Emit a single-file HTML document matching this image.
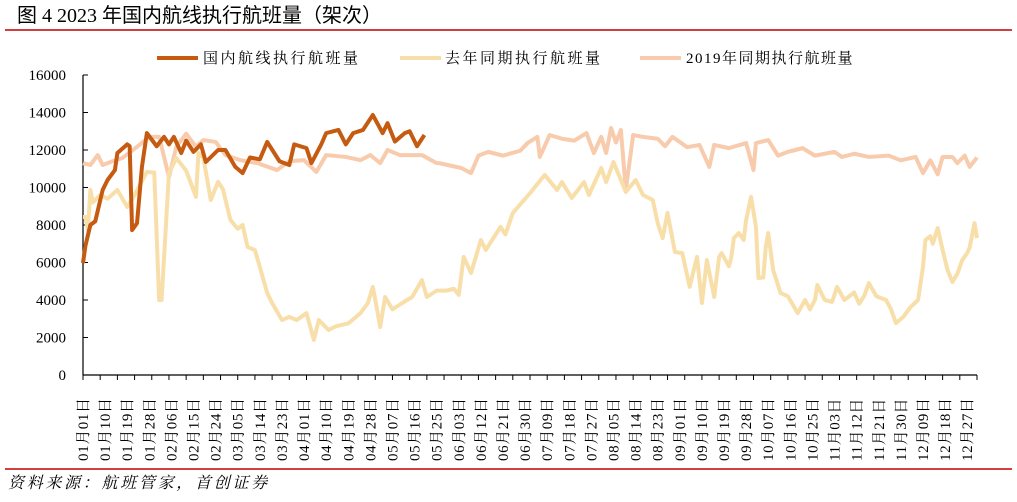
<!DOCTYPE html>
<html><head><meta charset="utf-8"><style>
body{margin:0;background:#fff;width:1017px;height:497px;overflow:hidden;font-family:"Liberation Serif","Noto Serif CJK SC",serif}
</style></head><body>
<svg id="chart" width="1017" height="497" xmlns="http://www.w3.org/2000/svg">
<text x="17" y="22" font-size="20" font-family="Liberation Serif, Noto Sans CJK SC, sans-serif" fill="#000">图  4 2023 年国内航线执行航班量（架次）</text>
<line x1="5" y1="30" x2="1012" y2="30" stroke="#C00000" stroke-width="1.5"/>
<line x1="5" y1="469" x2="1012" y2="469" stroke="#C00000" stroke-width="1.5"/>
<text x="8" y="488" font-size="16" letter-spacing="2.7" font-style="italic" font-family="Liberation Serif, Noto Serif CJK SC, serif">资料来源：航班管家，首创证券</text>
<g font-size="15" letter-spacing="2.5" font-family="Liberation Serif, Noto Serif CJK SC, serif">
<g><line x1="157" y1="58" x2="198" y2="58" stroke="#C55A11" stroke-width="4"/><text x="203" y="63">国内航线执行航班量</text></g>
<g><line x1="400" y1="58" x2="441" y2="58" stroke="#F8DFAA" stroke-width="4"/><text x="445" y="63">去年同期执行航班量</text></g>
<g><line x1="640" y1="58" x2="681" y2="58" stroke="#F8CBAD" stroke-width="4"/><text x="686" y="63" letter-spacing="1.5">2019年同期执行航班量</text></g>
</g>
<g id="axes"></g>
<g id="series"></g>
</svg>
<script>
const yTicks=[0,2000,4000,6000,8000,10000,12000,14000,16000];
const xLabels=["01月01日","01月10日","01月19日","01月28日","02月06日","02月15日","02月24日","03月05日","03月14日","03月23日","04月01日","04月10日","04月19日","04月28日","05月07日","05月16日","05月25日","06月03日","06月12日","06月21日","06月30日","07月09日","07月18日","07月27日","08月05日","08月14日","08月23日","09月01日","09月10日","09月19日","09月28日","10月07日","10月16日","10月25日","11月03日","11月12日","11月21日","11月30日","12月09日","12月18日","12月27日"];
const days2023=[0,1,3,5,8,10,13,14,18,19,20,22,24,26,30,33,35,37,40,42,45,48,50,55,58,62,65,68,72,75,80,84,86,91,93,97,99,104,107,110,114,118,122,124,127,131,133,136,139];
const vals2023=[5970,6900,8000,8200,9870,10400,10930,11840,12300,12200,7730,8100,11100,12900,12200,12700,12300,12700,11840,12500,11900,12300,11360,12000,12000,11100,10770,11600,11500,12430,11400,11200,12300,12100,11300,12300,12900,13070,12300,12900,13070,13870,12900,13430,12450,12900,13000,12200,12800];
const daysLast=[0,1,2,3,4,7,10,14,18,21,26,29,31,32,35,38,42,46,47,49,52,55,57,60,63,65,67,70,72,75,77,81,84,87,91,94,96,100,103,108,113,116,118,120,121,123,126,130,134,138,140,144,148,151,153,155,158,162,164,170,172,175,182,188,193,195,199,204,206,211,213,216,219,221,225,228,232,234,236,238,241,244,247,250,252,254,257,259,260,263,264,265,267,269,270,272,274,275,277,278,279,281,284,287,291,294,296,298,299,302,305,307,310,314,316,318,320,323,327,329,331,334,337,340,342,343,345,346,348,350,352,354,356,358,360,361,363,364];
const valsLast=[8430,8430,7730,9870,9200,9600,9400,9870,8960,9600,10830,10800,4000,4000,10770,11570,10900,9500,11840,11600,9330,10300,9900,8270,7800,8000,6830,6660,5760,4370,3840,2930,3100,2930,3300,1870,2930,2400,2600,2750,3300,3840,4700,3300,2560,4160,3500,3840,4160,5060,4160,4500,4500,4600,4270,6300,5440,7200,6670,7900,7500,8640,9700,10670,9870,10290,9440,10290,9600,11040,10290,11360,10400,9760,10400,9600,9330,8100,7300,8640,6560,6500,4700,6300,3840,6130,4160,6300,6500,5800,6300,7300,7570,7200,8270,9500,7900,5170,5200,6830,7570,5600,4370,4200,3300,4000,3500,4000,4800,4000,3900,4700,4000,4400,3800,4200,4900,4200,4000,3500,2770,3100,3630,4000,5760,7200,7400,7000,7840,6670,5600,4960,5400,6130,6500,6800,8100,7300];
const days2019=[0,3,6,8,12,16,22,27,31,35,38,42,46,49,54,58,64,71,79,84,90,95,99,107,113,117,121,124,129,138,144,145,154,158,161,165,171,178,181,185,186,190,195,200,205,208,211,213,215,217,219,221,224,228,234,237,240,246,251,255,257,263,270,273,274,279,283,287,293,298,306,309,314,320,328,333,339,342,345,348,350,354,356,359,361,364];
const vals2019=[11300,11200,11730,11200,11400,11570,12170,12700,12700,10560,12170,12870,12170,12530,12430,11730,11460,11300,10930,11400,11460,10830,11730,11630,11460,11730,11300,12000,11730,11730,11300,11300,11040,10770,11700,11900,11700,11960,12370,12700,11630,12800,12600,12500,12900,11840,12700,11840,13170,12400,13070,9870,12800,12700,12600,12200,12700,12150,12270,11100,12270,12100,12370,10930,12370,12530,11700,11900,12100,11700,11900,11630,11800,11630,11700,11450,11630,10770,11450,10700,11630,11630,11300,11700,11100,11600];
const X0=83,X1=977,Y0=375,Y1=75,DAYS=364;
const xs=d=>X0+d*(X1-X0)/DAYS;
const ys=v=>Y0-v*(Y0-Y1)/16000;
const NS="http://www.w3.org/2000/svg";
const ax=document.getElementById('axes'),se=document.getElementById('series');
function mk(tag,attrs,parent){const e=document.createElementNS(NS,tag);for(const k in attrs)e.setAttribute(k,attrs[k]);parent.appendChild(e);return e;}
let l=mk('line',{x1:X0,y1:Y1,x2:X0,y2:Y0,stroke:'#000','stroke-width':1.2},ax);


l=mk('line',{x1:X0,y1:Y0,x2:X1,y2:Y0,stroke:'#000','stroke-width':1.2},ax);


yTicks.forEach(v=>{
  const t=mk('line',{x1:X0,y1:ys(v),x2:X0+5,y2:ys(v),stroke:'#000'},ax);
  
  
  const tx=mk('text',{x:66,y:ys(v)+5,'text-anchor':'end','font-size':15},ax);
  tx.textContent=v;
  
  
});
for(let d=0;d<=DAYS;d+=7){
  const t=mk('line',{x1:xs(d),y1:Y0,x2:xs(d),y2:Y0+5,stroke:'#000'},ax);
  
  
}
xLabels.forEach((s,i)=>{
  const x=xs(i*9)+5,y=461;
  const tx=mk('text',{x:x,y:y,'font-size':15,'letter-spacing':0.6,transform:`rotate(-90 ${x} ${y})`},ax);
  tx.textContent=s;
  
  
});
function line(days,vals,color,w,name){
  const p=mk('polyline',{points:days.map((d,i)=>xs(d)+','+ys(vals[i])).join(' '),fill:'none',stroke:color,'stroke-width':w,'stroke-linejoin':'round'},se);
  
  
}
line(days2019,vals2019,'#F8CBAD',4,'series-2019');
line(daysLast,valsLast,'#F8DFAA',4,'series-last-year');
line(days2023,vals2023,'#C55A11',4,'series-2023');
</script>
</body></html>
